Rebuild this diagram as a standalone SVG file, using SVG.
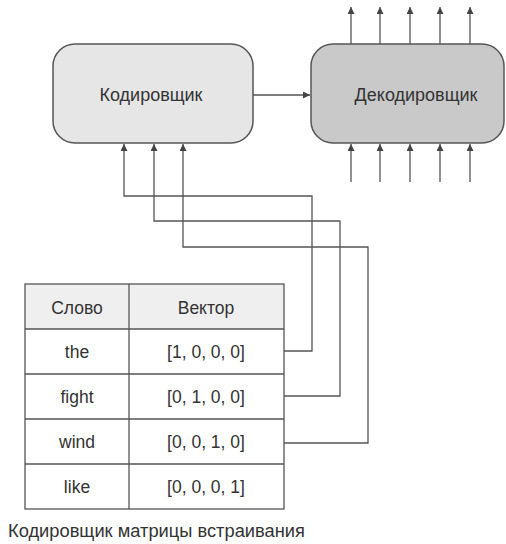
<svg xmlns="http://www.w3.org/2000/svg" width="506" height="544" viewBox="0 0 506 544">
  <style>
    .box { stroke: #555; stroke-width: 1.5; }
    .lbl { font-family: "Liberation Sans", Arial, sans-serif; fill: #333; text-anchor: middle; }
    .wire { fill: none; stroke: #555; stroke-width: 1.3; }
    .cell { fill: none; stroke: #555; stroke-width: 1.3; }
  </style>
  <defs>
    <marker id="arrow" viewBox="0 0 10 10" refX="10" refY="5" markerWidth="7" markerHeight="7" markerUnits="userSpaceOnUse" orient="auto">
      <path d="M0,0 L10,5 L0,10 Z" fill="#444"/>
    </marker>
  </defs>
  <rect width="506" height="544" fill="#ffffff"/>

  <g id="encoder">
    <rect class="box" x="53" y="44" width="200" height="99" rx="22" fill="#e6e6e6"/>
    <text class="lbl" x="151" y="101" font-size="18">Кодировщик</text>
  </g>

  <g id="decoder">
    <rect class="box" x="311" y="44" width="193" height="99" rx="22" fill="#c9c9c9"/>
    <text class="lbl" x="416" y="101" font-size="18">Декодировщик</text>
  </g>

  <g id="embedding-table">
    <rect x="25" y="284" width="259" height="45" fill="#efefef"/>
    <rect class="cell" x="25" y="284" width="259" height="225"/>
    <line class="cell" x1="129" y1="284" x2="129" y2="509"/>
    <line class="cell" x1="25" y1="329" x2="284" y2="329"/>
    <line class="cell" x1="25" y1="374" x2="284" y2="374"/>
    <line class="cell" x1="25" y1="419" x2="284" y2="419"/>
    <line class="cell" x1="25" y1="464" x2="284" y2="464"/>
    <g class="lbl" font-size="17.5">
      <text x="77" y="314">Слово</text>
      <text x="206" y="314">Вектор</text>
      <text x="77" y="358">the</text>
      <text x="206" y="358">[1, 0, 0, 0]</text>
      <text x="77" y="403">fight</text>
      <text x="206" y="403">[0, 1, 0, 0]</text>
      <text x="77" y="448">wind</text>
      <text x="206" y="448">[0, 0, 1, 0]</text>
      <text x="77" y="493">like</text>
      <text x="206" y="493">[0, 0, 0, 1]</text>
    </g>
  </g>

  <g id="caption">
    <text x="8" y="537" font-family="Liberation Sans, Arial, sans-serif" font-size="18.3" fill="#333">Кодировщик матрицы встраивания</text>
  </g>

  <g id="connectors">
    <!-- encoder to decoder -->
    <line class="wire" x1="253" y1="95" x2="310" y2="95" marker-end="url(#arrow)"/>
    <!-- decoder outputs -->
    <line class="wire" x1="351" y1="44" x2="351" y2="7" marker-end="url(#arrow)"/>
    <line class="wire" x1="380" y1="44" x2="380" y2="7" marker-end="url(#arrow)"/>
    <line class="wire" x1="410" y1="44" x2="410" y2="7" marker-end="url(#arrow)"/>
    <line class="wire" x1="440" y1="44" x2="440" y2="7" marker-end="url(#arrow)"/>
    <line class="wire" x1="470" y1="44" x2="470" y2="7" marker-end="url(#arrow)"/>
    <!-- decoder inputs -->
    <line class="wire" x1="351" y1="182" x2="351" y2="144" marker-end="url(#arrow)"/>
    <line class="wire" x1="380" y1="182" x2="380" y2="144" marker-end="url(#arrow)"/>
    <line class="wire" x1="410" y1="182" x2="410" y2="144" marker-end="url(#arrow)"/>
    <line class="wire" x1="440" y1="182" x2="440" y2="144" marker-end="url(#arrow)"/>
    <line class="wire" x1="470" y1="182" x2="470" y2="144" marker-end="url(#arrow)"/>
    <!-- table rows to encoder -->
    <polyline class="wire" points="284,351 312,351 312,196 124,196 124,144" marker-end="url(#arrow)"/>
    <polyline class="wire" points="284,396 340,396 340,221 154,221 154,144" marker-end="url(#arrow)"/>
    <polyline class="wire" points="284,443 368,443 368,247 183,247 183,144" marker-end="url(#arrow)"/>
  </g>
</svg>
